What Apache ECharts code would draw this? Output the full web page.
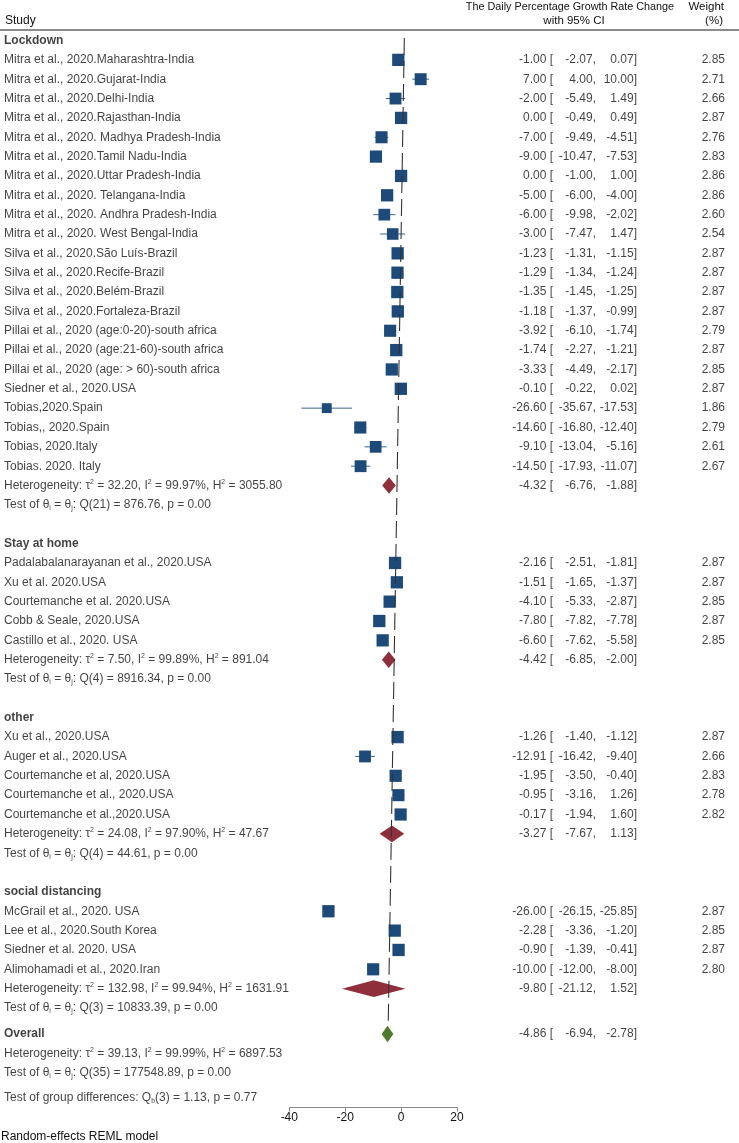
<!DOCTYPE html>
<html>
<head>
<meta charset="utf-8">
<script src="https://cdn.jsdelivr.net/npm/echarts@6/dist/echarts.min.js"></script>
<style>html,body{margin:0;padding:0;background:#fff}#c{width:739px;height:1143px}</style>
</head>
<body>
<div id="c"></div>
<script>
// ---------------- DATA ----------------
const groupNames = ['Lockdown', 'Stay at home', 'other', 'social distancing'];
const studyLabels = [
  'Mitra et al., 2020.Maharashtra-India','Mitra et al., 2020.Gujarat-India','Mitra et al., 2020.Delhi-India',
  'Mitra et al., 2020.Rajasthan-India','Mitra et al., 2020. Madhya Pradesh-India','Mitra et al., 2020.Tamil Nadu-India',
  'Mitra et al., 2020.Uttar Pradesh-India','Mitra et al., 2020. Telangana-India','Mitra et al., 2020. Andhra Pradesh-India',
  'Mitra et al., 2020. West Bengal-India','Silva et al., 2020.São Luís-Brazil','Silva et al., 2020.Recife-Brazil',
  'Silva et al., 2020.Belém-Brazil','Silva et al., 2020.Fortaleza-Brazil','Pillai et al., 2020 (age:0-20)-south africa',
  'Pillai et al., 2020 (age:21-60)-south africa','Pillai et al., 2020 (age: > 60)-south africa','Siedner et al., 2020.USA',
  'Tobias,2020.Spain','Tobias,, 2020.Spain','Tobias, 2020.Italy','Tobias. 2020. Italy',
  'Padalabalanarayanan et al., 2020.USA','Xu et al. 2020.USA','Courtemanche et al. 2020.USA','Cobb & Seale, 2020.USA','Castillo et al., 2020. USA',
  'Xu et al., 2020.USA','Auger et al., 2020.USA','Courtemanche et al, 2020.USA','Courtemanche et al., 2020.USA','Courtemanche et al.,2020.USA',
  'McGrail et al., 2020. USA','Lee et al., 2020.South Korea','Siedner et al. 2020. USA','Alimohamadi et al., 2020.Iran'
];
const studyGroup = [0,0,0,0,0,0,0,0,0,0,0,0,0,0,0,0,0,0,0,0,0,0, 1,1,1,1,1, 2,2,2,2,2, 3,3,3,3];
const studyEst = [-1.00,7.00,-2.00,0.00,-7.00,-9.00,0.00,-5.00,-6.00,-3.00,-1.23,-1.29,-1.35,-1.18,-3.92,-1.74,-3.33,-0.10,-26.60,-14.60,-9.10,-14.50,
  -2.16,-1.51,-4.10,-7.80,-6.60, -1.26,-12.91,-1.95,-0.95,-0.17, -26.00,-2.28,-0.90,-10.00];
const studyLo = [-2.07,4.00,-5.49,-0.49,-9.49,-10.47,-1.00,-6.00,-9.98,-7.47,-1.31,-1.34,-1.45,-1.37,-6.10,-2.27,-4.49,-0.22,-35.67,-16.80,-13.04,-17.93,
  -2.51,-1.65,-5.33,-7.82,-7.62, -1.40,-16.42,-3.50,-3.16,-1.94, -26.15,-3.36,-1.39,-12.00];
const studyHi = [0.07,10.00,1.49,0.49,-4.51,-7.53,1.00,-4.00,-2.02,1.47,-1.15,-1.24,-1.25,-0.99,-1.74,-1.21,-2.17,0.02,-17.53,-12.40,-5.16,-11.07,
  -1.81,-1.37,-2.87,-7.78,-5.58, -1.12,-9.40,-0.40,1.26,1.60, -25.85,-1.20,-0.41,-8.00];
const studyWeight = [2.85,2.71,2.66,2.87,2.76,2.83,2.86,2.86,2.60,2.54,2.87,2.87,2.87,2.87,2.79,2.87,2.85,2.87,1.86,2.79,2.61,2.67,
  2.87,2.87,2.85,2.87,2.85, 2.87,2.66,2.83,2.78,2.82, 2.87,2.85,2.87,2.80];
const groupEst = [-4.32, -4.42, -3.27, -9.80];
const groupLo  = [-6.76, -6.85, -7.67, -21.12];
const groupHi  = [-1.88, -2.00, 1.13, 1.52];
const groupTau2 = ['32.20', '7.50', '24.08', '132.98'];
const groupI2   = ['99.97', '99.89', '97.90', '99.94'];
const groupH2   = ['3055.80', '891.04', '47.67', '1631.91'];
const groupQdf  = [21, 4, 4, 3];
const groupQ    = ['876.76', '8916.34', '44.61', '10833.39'];
const groupP    = ['0.00', '0.00', '0.00', '0.00'];
const overallEst = -4.86, overallLo = -6.94, overallHi = -2.78;
const overallTau2 = '39.13', overallI2 = '99.99', overallH2 = '6897.53';
const overallQdf = 35, overallQ = '177548.89', overallP = '0.00';
const groupDiffDf = 3, groupDiffQ = '1.13', groupDiffP = '0.77';
const xTicks = [-40, -20, 0, 20];
// slanted dashed reference line as drawn in the figure: [x, row]
const refLineTop = [1.15, -0.13], refLineBottom = [-4.6, 50.8];

// ---------------- LAYOUT ----------------
const ROW_H = 19.35, ROW0 = 40.5;
const GRID_TOP = ROW0 - ROW_H, AXIS_Y = 1107.7;
const Y_MIN = -1, Y_MAX = -1 + (AXIS_Y - GRID_TOP) / ROW_H;
const FONT = '"Liberation Sans", Arial, Helvetica, sans-serif';
const TXT = '#111';
const BLUE = '#1d4a78', RED = '#8e2f3b', GREEN = '#4d7a2c';

// build rows
const studyRows = [], labelRows = [], estRows = [], diamondRows = [];
let r = 0, si = 0;
groupNames.forEach((g, gi) => {
  labelRows.push({row: r, text: '{b|' + g + '}'});
  r++;
  while (si < studyLabels.length && studyGroup[si] === gi) {
    studyRows.push([studyEst[si], studyLo[si], studyHi[si], r, studyWeight[si]]);
    labelRows.push({row: r, text: studyLabels[si]});
    estRows.push({row: r, e: studyEst[si], lo: studyLo[si], hi: studyHi[si], w: studyWeight[si].toFixed(2)});
    r++; si++;
  }
  labelRows.push({row: r, text: 'Heterogeneity: τ{sup|2} = ' + groupTau2[gi] + ', I{sup|2} = ' + groupI2[gi] + '%, H{sup|2} = ' + groupH2[gi]});
  estRows.push({row: r, e: groupEst[gi], lo: groupLo[gi], hi: groupHi[gi], w: ''});
  diamondRows.push([groupEst[gi], groupLo[gi], groupHi[gi], r, 0]);
  r++;
  labelRows.push({row: r, text: 'Test of θ{sub|i} = θ{sub|j}: Q(' + groupQdf[gi] + ') = ' + groupQ[gi] + ', p = ' + groupP[gi]});
  r += 2;
});
const rOverall = r - 1 + 0.34;
labelRows.push({row: rOverall, text: '{b|Overall}'});
estRows.push({row: rOverall, e: overallEst, lo: overallLo, hi: overallHi, w: ''});
diamondRows.push([overallEst, overallLo, overallHi, rOverall, 1]);
labelRows.push({row: rOverall + 1, text: 'Heterogeneity: τ{sup|2} = ' + overallTau2 + ', I{sup|2} = ' + overallI2 + '%, H{sup|2} = ' + overallH2});
labelRows.push({row: rOverall + 2, text: 'Test of θ{sub|i} = θ{sub|j}: Q(' + overallQdf + ') = ' + overallQ + ', p = ' + overallP});
labelRows.push({row: rOverall + 3.27, text: 'Test of group differences: Q{sub|b}(' + groupDiffDf + ') = ' + groupDiffQ + ', p = ' + groupDiffP});

// ---------------- CHART ----------------
const rich = {
  b: {fontWeight: 'bold', fontSize: 12, fontFamily: FONT, color: TXT},
  sup: {fontSize: 7, lineHeight: 9, verticalAlign: 'top', fontFamily: FONT, color: TXT},
  sub: {fontSize: 7, lineHeight: 3, verticalAlign: 'bottom', fontFamily: FONT, color: TXT}
};
const cols = [
  {x: 5, align: 'left'},     // study
  {x: 553, align: 'right'},  // estimate "["
  {x: 596, align: 'right'},  // lower ","
  {x: 637, align: 'right'},  // upper "]"
  {x: 725, align: 'right'}   // weight
];
const grids = [{left: 289.3, width: 167.7, top: GRID_TOP, height: AXIS_Y - GRID_TOP}];
const xAxes = [{
  gridIndex: 0, type: 'value', min: -40, max: 20, interval: 20, position: 'bottom',
  axisLine: {onZero: false, lineStyle: {color: '#8a8a8a', width: 1}},
  axisTick: {length: 4, lineStyle: {color: '#8a8a8a'}},
  axisLabel: {color: TXT, fontSize: 12, fontFamily: FONT, margin: 4, customValues: xTicks},
  splitLine: {show: false}
}];
const yAxes = [{gridIndex: 0, type: 'value', inverse: true, min: Y_MIN, max: Y_MAX, show: false}];
cols.forEach((c, i) => {
  grids.push({left: c.x - 1, width: 1, top: GRID_TOP, height: AXIS_Y - GRID_TOP});
  xAxes.push({gridIndex: i + 1, type: 'value', min: 0, max: 1, show: false});
  yAxes.push({gridIndex: i + 1, type: 'value', inverse: true, min: Y_MIN, max: Y_MAX, show: false});
});

function textSeries(idx, data, align) {
  return {
    type: 'scatter', xAxisIndex: idx, yAxisIndex: idx, silent: true,
    symbolSize: 0.01, itemStyle: {color: 'rgba(0,0,0,0)'},
    data: data.map(d => ({value: [align === 'left' ? 0 : 1, d.row], name: d.text})),
    label: {
      show: true, position: [0, 0], align: align, verticalAlign: 'middle',
      formatter: p => p.name, color: TXT, fontSize: 12, fontFamily: FONT, lineHeight: 14, rich: rich
    },
    z: 5
  };
}

const series = [
  {
    type: 'custom', xAxisIndex: 0, yAxisIndex: 0, silent: true, z: 2,
    data: studyRows,
    renderItem: (params, api) => {
      const a = api.coord([api.value(1), api.value(3)]);
      const b = api.coord([api.value(2), api.value(3)]);
      return {type: 'line', shape: {x1: a[0], y1: a[1], x2: b[0], y2: b[1]}, style: {stroke: '#3a6391', lineWidth: 1}};
    }
  },
  {
    type: 'scatter', xAxisIndex: 0, yAxisIndex: 0, silent: true, z: 3,
    symbol: 'rect',
    data: studyRows.map(d => [d[0], d[3], d[4]]),
    symbolSize: v => 12.3 * Math.sqrt(v[2] / 2.87),
    itemStyle: {color: BLUE, opacity: 1}
  },
  {
    type: 'custom', xAxisIndex: 0, yAxisIndex: 0, silent: true, z: 3,
    data: diamondRows,
    renderItem: (params, api) => {
      const c = api.coord([api.value(0), api.value(3)]);
      const a = api.coord([api.value(1), api.value(3)]);
      const b = api.coord([api.value(2), api.value(3)]);
      const h = 8.3;
      return {type: 'polygon', shape: {points: [[a[0], c[1]], [c[0], c[1] - h], [b[0], c[1]], [c[0], c[1] + h]]},
        style: {fill: api.value(4) === 1 ? GREEN : RED}};
    }
  },
  {
    type: 'line', xAxisIndex: 0, yAxisIndex: 0, silent: true, z: 4,
    data: [refLineTop, refLineBottom], symbol: 'none',
    lineStyle: {color: '#333', width: 1.1, type: [17, 6]}
  },
  textSeries(1, labelRows, 'left'),
  textSeries(2, estRows.map(d => ({row: d.row, text: d.e.toFixed(2) + ' ['})), 'right'),
  textSeries(3, estRows.map(d => ({row: d.row, text: d.lo.toFixed(2) + ','})), 'right'),
  textSeries(4, estRows.map(d => ({row: d.row, text: d.hi.toFixed(2) + ']'})), 'right'),
  textSeries(5, estRows.filter(d => d.w !== '').map(d => ({row: d.row, text: d.w})), 'right')
];

const hdrFont = '12px ' + FONT;
const chart = echarts.init(document.getElementById('c'), null, {renderer: 'canvas'});
chart.setOption({
  animation: false,
  backgroundColor: '#fff',
  grid: grids, xAxis: xAxes, yAxis: yAxes, series: series,
  graphic: [
    {type: 'text', x: 5, y: 21, style: {text: 'Study', font: hdrFont, fill: TXT, verticalAlign: 'middle'}},
    {type: 'text', x: 570, y: 7, style: {text: 'The Daily Percentage Growth Rate Change', font: '10.8px ' + FONT, fill: TXT, align: 'center', verticalAlign: 'middle'}},
    {type: 'text', x: 574, y: 21, style: {text: 'with 95% CI', font: '11.5px ' + FONT, fill: TXT, align: 'center', verticalAlign: 'middle'}},
    {type: 'text', x: 724, y: 7, style: {text: 'Weight', font: '11.5px ' + FONT, fill: TXT, align: 'right', verticalAlign: 'middle'}},
    {type: 'text', x: 723, y: 21, style: {text: '(%)', font: '11.5px ' + FONT, fill: TXT, align: 'right', verticalAlign: 'middle'}},
    {type: 'line', shape: {x1: 0, y1: 30, x2: 739, y2: 30}, style: {stroke: '#8c8c8c', lineWidth: 2.2}},
    {type: 'text', x: 1, y: 1137, style: {text: 'Random-effects REML model', font: hdrFont, fill: TXT, verticalAlign: 'middle'}}
  ]
});
</script>
</body>
</html>
